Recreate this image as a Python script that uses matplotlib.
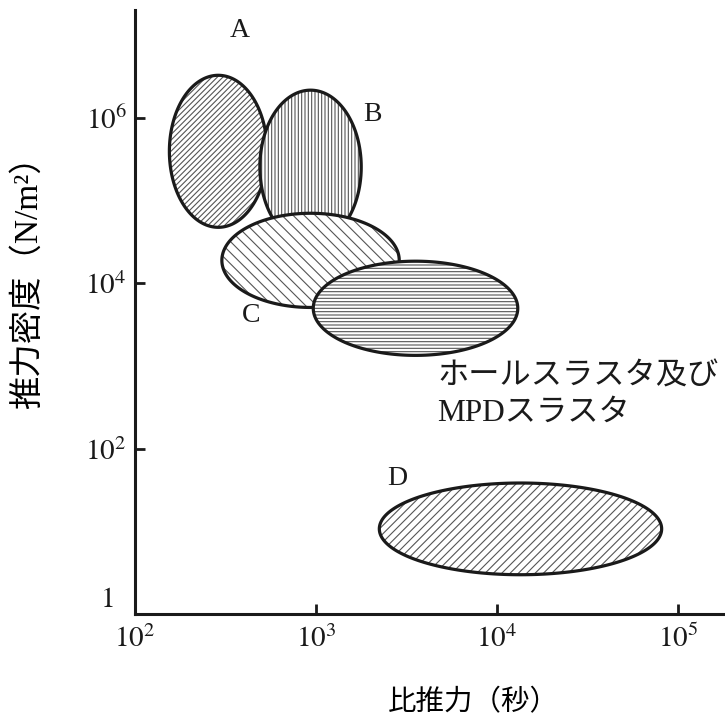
import numpy as np
import matplotlib
matplotlib.use('Agg')
import matplotlib.pyplot as plt

plt.rcParams['font.family'] = ['Liberation Serif', 'Noto Sans CJK JP']
plt.rcParams['mathtext.fontset'] = 'stix'
plt.rcParams['hatch.linewidth'] = 0.8

# ellipse regions, in decades (log10 of value)
names = ['A', 'B', 'C', 'Hall/MPD', 'D']
cx_log = [2.46, 2.97, 2.97, 3.55, 4.13]     # centre, specific impulse
cy_log = [5.60, 5.41, 4.28, 3.70, 1.03]     # centre, thrust density
w_dec = [0.54, 0.56, 0.98, 1.13, 1.56]      # full width in decades
h_dec = [1.84, 1.86, 1.14, 1.14, 1.11]      # full height in decades
hatches = ['//////', '|||||', '\\\\\\', '-----', '////']

# letter labels (log10 positions)
lab_text = ['A', 'B', 'C', 'D']
lab_x = [2.58, 3.31, 2.64, 3.45]
lab_y = [7.06, 6.05, 3.61, 1.64]

note_lines = ['ホールスラスタ及び', 'MPDスラスタ']
note_x = 3.67
note_y = [2.87, 2.43]

xticks = [1e2, 1e3, 1e4, 1e5]
xticklabels = [r'$10^{2}$', r'$10^{3}$', r'$10^{4}$', r'$10^{5}$']
yticks = [1, 1e2, 1e4, 1e6]
yticklabels = ['', r'$10^{2}$', r'$10^{4}$', r'$10^{6}$']

fig = plt.figure(figsize=(7.25, 7.16), dpi=100)
ax = fig.add_axes([0.1862, 0.1425, 0.8138, 0.8435])
ax.set_xscale('log')
ax.set_yscale('log')
ax.set_xlim(1e2, 10 ** 5.26)
ax.set_ylim(1, 10 ** 7.31)

t = np.linspace(0, 2 * np.pi, 300)
for i in range(len(names)):
    ex = 10 ** (cx_log[i] + w_dec[i] / 2 * np.cos(t))
    ey = 10 ** (cy_log[i] + h_dec[i] / 2 * np.sin(t))
    ax.fill(ex, ey, facecolor='white', edgecolor='#555555', hatch=hatches[i],
            linewidth=0, zorder=2 + 2 * i)
    ax.fill(ex, ey, fill=False, edgecolor='#1a1a1a', linewidth=2.3,
            zorder=3 + 2 * i)

for i in range(len(lab_text)):
    ax.text(10 ** lab_x[i], 10 ** lab_y[i], lab_text[i], fontsize=20,
            ha='center', va='center', color='#1a1a1a', zorder=20)

for i in range(len(note_lines)):
    ax.text(10 ** note_x, 10 ** note_y[i], note_lines[i], fontsize=22.5,
            ha='left', va='center', color='#1a1a1a', zorder=20)

for s in ['top', 'right']:
    ax.spines[s].set_visible(False)
for s in ['left', 'bottom']:
    ax.spines[s].set_linewidth(2.2)
    ax.spines[s].set_color('#1a1a1a')

ax.set_xticks(xticks)
ax.set_xticklabels(xticklabels)
ax.set_yticks(yticks)
ax.set_yticklabels(yticklabels)
ax.minorticks_off()
ax.tick_params(direction='in', length=7, width=2, labelsize=21, colors='#1a1a1a')
ax.tick_params(axis='x', pad=8)
ax.tick_params(axis='y', pad=6)

# the "1" on the y axis sits a bit above the corner, clear of 10^2 below it
ax.text(-0.037, 10 ** 0.17, r'$1$', fontsize=21, ha='right', va='center',
        color='#1a1a1a', transform=ax.get_yaxis_transform(), clip_on=False)

ax.set_xlabel('比推力（秒）', fontsize=20.5, va='center')
ax.set_ylabel('推力密度（N/m²）', fontsize=24, va='center')
ax.xaxis.set_label_coords(0.574, -0.147)
ax.yaxis.set_label_coords(-0.181, 0.563)

fig.savefig('out.png', dpi=100, facecolor='white')
